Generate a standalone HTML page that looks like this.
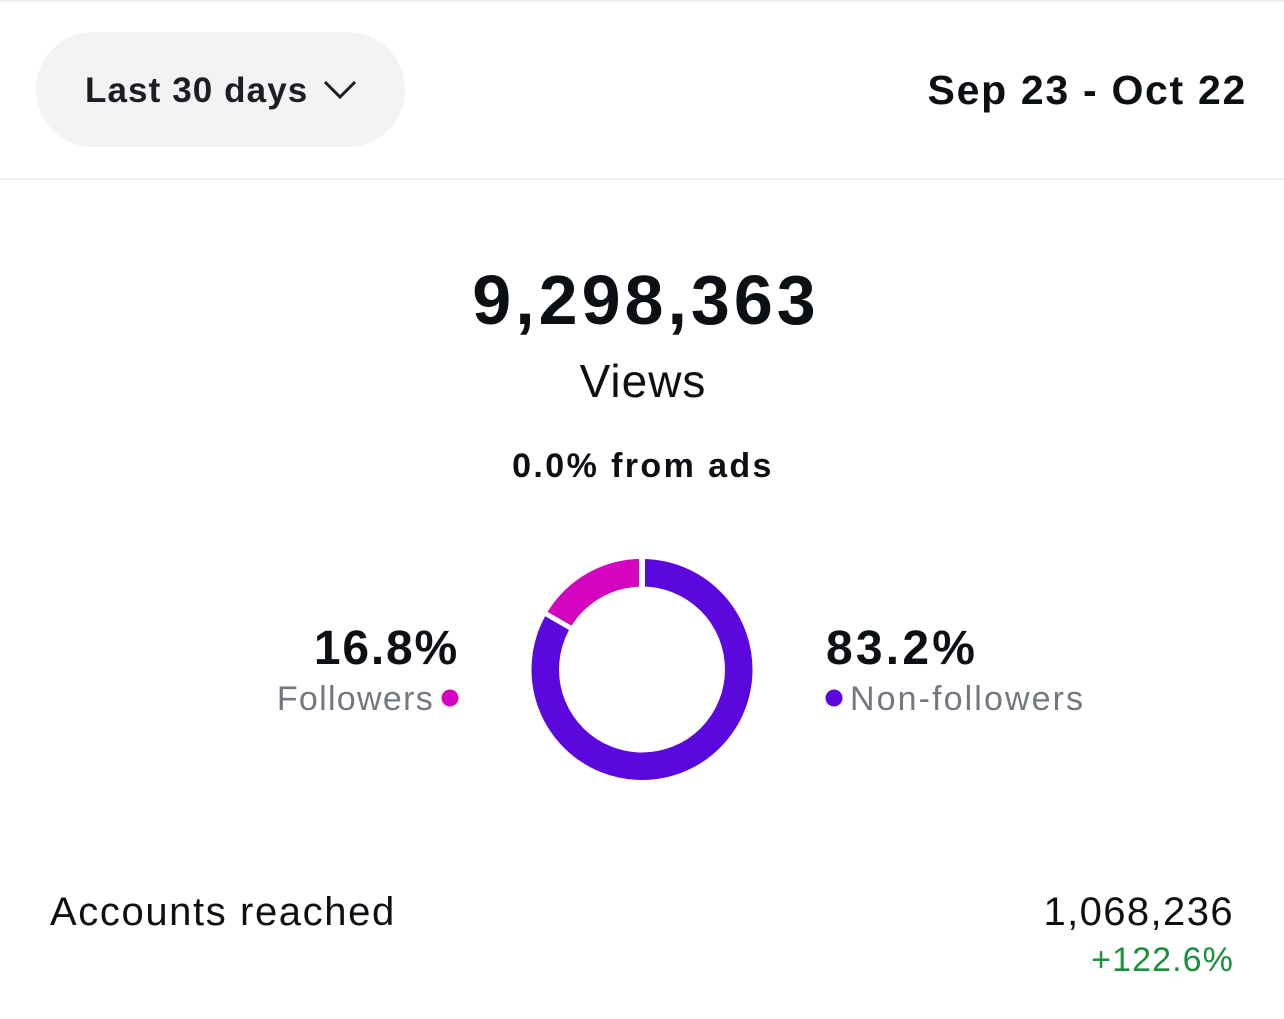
<!DOCTYPE html>
<html><head><style>
body{margin:0;width:1284px;height:1019px;background:#fff;font-family:"Liberation Sans",sans-serif;color:#0c1014;position:relative;overflow:hidden}
.a{position:absolute;white-space:nowrap;line-height:1}
</style></head><body>
<div class="a" style="left:0;top:0;width:1284px;height:2px;background:#eee"></div>
<div class="a" style="left:36px;top:32px;width:369px;height:115px;border-radius:57px;background:#f2f3f5"></div>
<div class="a" style="left:85px;top:73px;font-size:35px;font-weight:bold;color:#1c1e21;letter-spacing:1.1px">Last 30 days</div>
<svg class="a" style="left:322px;top:78px" width="36" height="24"><polyline points="3,4 18,19 33,4" fill="none" stroke="#1c1e21" stroke-width="3"/></svg>
<div class="a" style="right:37px;top:70px;font-size:41px;font-weight:bold;letter-spacing:1.7px">Sep 23 - Oct 22</div>
<div class="a" style="left:0;top:178px;width:1284px;height:2px;background:#f0f0f0"></div>
<div class="a" style="left:4px;width:1284px;text-align:center;top:265px;font-size:70px;font-weight:bold;letter-spacing:4px">9,298,363</div>
<div class="a" style="left:1px;width:1284px;text-align:center;top:358px;font-size:46px;letter-spacing:1px">Views</div>
<div class="a" style="left:1px;width:1284px;text-align:center;top:449px;font-size:34px;font-weight:bold;letter-spacing:2.4px">0.0% from ads</div>
<svg class="a" style="left:0;top:0" width="1284" height="1019">
<circle cx="642" cy="669.5" r="96.75" fill="none" stroke="#5a08de" stroke-width="27.5"/>
<circle cx="642" cy="669.5" r="96.75" fill="none" stroke="#d303c0" stroke-width="27.5" stroke-dasharray="102 600" transform="rotate(-150.5 642 669.5)"/>
<line x1="642" y1="555" x2="642" y2="590" stroke="#fff" stroke-width="6"/>
<line x1="642" y1="669.5" x2="530" y2="604.5" stroke="#fff" stroke-width="5"/>
<circle cx="450" cy="698" r="8.5" fill="#d303c0"/>
<circle cx="834" cy="698" r="8.5" fill="#5a08de"/>
</svg>
<div class="a" style="right:825px;top:625px;font-size:48px;font-weight:bold;letter-spacing:1.8px">16.8%</div>
<div class="a" style="right:850px;top:682px;font-size:34px;color:#737880;letter-spacing:1.3px">Followers</div>
<div class="a" style="left:826px;top:625px;font-size:48px;font-weight:bold;letter-spacing:3.2px">83.2%</div>
<div class="a" style="left:850px;top:682px;font-size:34px;color:#737880;letter-spacing:2.1px">Non-followers</div>
<div class="a" style="left:50px;top:892px;font-size:40px;letter-spacing:1.6px">Accounts reached</div>
<div class="a" style="right:50px;top:892px;font-size:40px;letter-spacing:1.4px">1,068,236</div>
<div class="a" style="right:50px;top:943px;font-size:34px;color:#1a8f3c;letter-spacing:1.1px">+122.6%</div>
</body></html>
